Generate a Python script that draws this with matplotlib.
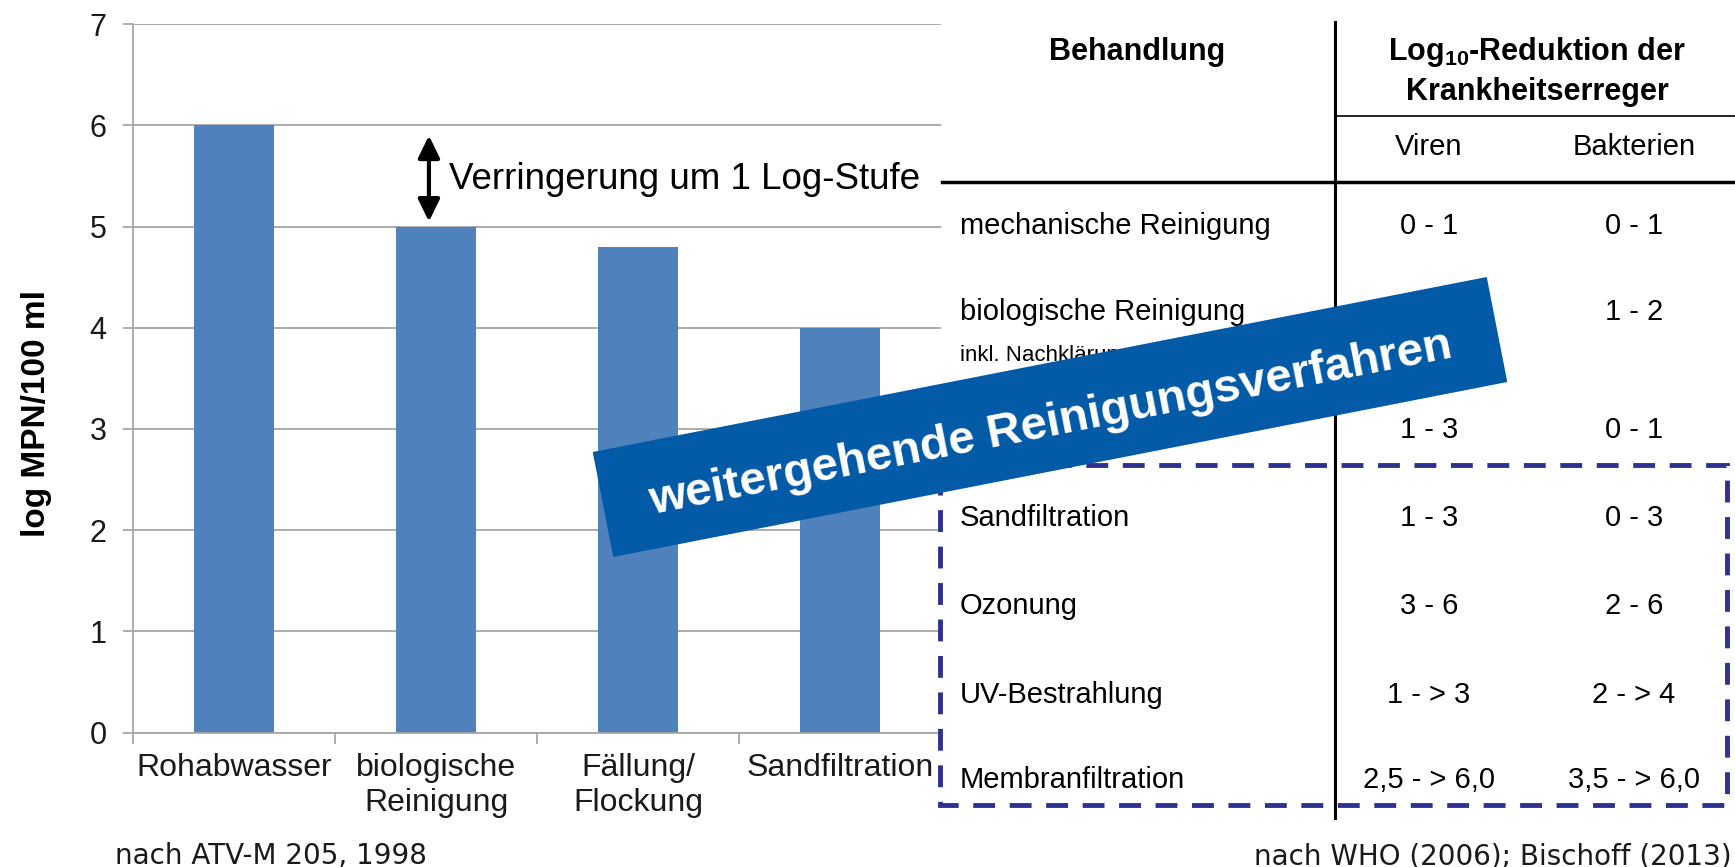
import matplotlib
matplotlib.use('Agg')
import matplotlib.pyplot as plt
import numpy as np
from matplotlib.patches import Polygon, Rectangle

plt.rcParams['font.family'] = ['Liberation Sans', 'DejaVu Sans']
plt.rcParams['mathtext.fontset'] = 'custom'
plt.rcParams['mathtext.rm'] = 'Liberation Sans'
plt.rcParams['mathtext.bf'] = 'Liberation Sans:bold'
plt.rcParams['mathtext.default'] = 'bf'

# Daten Balkendiagramm (nach ATV-M 205)
categories = ['Rohabwasser', 'biologische\nReinigung', 'Fällung/\nFlockung', 'Sandfiltration']
log_mpn = [6.0, 5.0, 4.8, 4.0]
y_ticks = [0, 1, 2, 3, 4, 5, 6, 7]

# Tabelle Log10-Reduktion (nach WHO / Bischoff)
behandlung = ['mechanische Reinigung', 'biologische Reinigung', 'Fällung/Flockung',
              'Sandfiltration', 'Ozonung', 'UV-Bestrahlung', 'Membranfiltration']
viren = ['0 - 1', '0 - 2', '1 - 3', '1 - 3', '3 - 6', '1 - > 3', '2,5 - > 6,0']
bakterien = ['0 - 1', '1 - 2', '0 - 1', '0 - 3', '2 - 6', '2 - > 4', '3,5 - > 6,0']

W, H = 1735, 867
fig = plt.figure(figsize=(W / 100, H / 100), dpi=100)

# --- Balkendiagramm links
ax = fig.add_axes([133 / W, 1 - 732.5 / H, 808 / W, 708.2 / H])
x = np.arange(len(categories))
ax.bar(x, log_mpn, width=0.4, color='#4F81BD', zorder=2)
ax.set_xlim(-0.5, 3.5)
ax.set_ylim(0, 7)
ax.set_yticks(y_ticks)
ax.yaxis.grid(True, color='#A6A6A6', lw=1.3)
ax.set_axisbelow(True)
for s in ['top', 'right']:
    ax.spines[s].set_visible(False)
for s in ['left', 'bottom']:
    ax.spines[s].set_color('#A6A6A6')
    ax.spines[s].set_linewidth(1.3)
ax.set_xticks(x)
ax.set_xticklabels(categories, fontsize=23, linespacing=1.2, color='#1a1a1a')
ax.set_xticks(np.arange(-0.5, 4, 1), minor=True)
ax.tick_params(axis='x', which='major', length=0, pad=15)
ax.tick_params(axis='x', which='minor', length=8, color='#A6A6A6', width=1.3)
ax.tick_params(axis='y', length=7, color='#A6A6A6', width=1.3, labelsize=22, pad=12,
               labelcolor='#1a1a1a')
ax.set_ylabel('log MPN/100 ml', fontsize=24, fontweight='bold')
ax.yaxis.set_label_coords(-0.100, 0.45)

ax.annotate('', xy=(0.965, 5.05), xytext=(0.965, 5.90),
            arrowprops=dict(arrowstyle='<|-|>,head_length=0.45,head_width=0.22', color='black',
                            lw=3, mutation_scale=30, shrinkA=0, shrinkB=0))
ax.text(1.065, 5.47, 'Verringerung um 1 Log-Stufe', fontsize=26.5, va='center', ha='left')

# --- Tabelle rechts (Pixel-Koordinaten)
ov = fig.add_axes([0, 0, 1, 1])
ov.set_xlim(0, W)
ov.set_ylim(H, 0)
ov.axis('off')

ov.plot([942, W], [182, 182], color='black', lw=2.5)
ov.plot([1335, 1335], [22, 818], color='black', lw=2.2)
ov.plot([1335, W], [116, 116], color='black', lw=1.2)

ov.text(1137, 52, 'Behandlung', ha='center', va='center', fontsize=22, fontweight='bold')
ov.text(1537, 52, 'Log$_{10}$-Reduktion der', ha='center', va='center', fontsize=22,
        fontweight='bold')
ov.text(1537, 92, 'Krankheitserreger', ha='center', va='center', fontsize=22, fontweight='bold')
ov.text(1429, 147, 'Viren', ha='center', va='center', fontsize=21)
ov.text(1634, 147, 'Bakterien', ha='center', va='center', fontsize=21)

row_y = [226, 312, 430, 518, 606, 695, 780]
for yy, b, v, k in zip(row_y, behandlung, viren, bakterien):
    ov.text(960, yy, b, ha='left', va='center', fontsize=21)
    ov.text(1429, yy, v, ha='center', va='center', fontsize=21)
    ov.text(1634, yy, k, ha='center', va='center', fontsize=21)
ov.text(960, 356, 'inkl. Nachklärung', ha='left', va='center', fontsize=16)

ov.add_patch(Rectangle((940, 465), 1727 - 940, 805 - 465, fill=False, edgecolor='#2E3192',
                       lw=3.5, linestyle=(0, (4.5, 3))))

# --- Banner
c = np.array([1050, 417])
u = np.array([894, -175]) / np.hypot(894, 175)
v = np.array([-u[1], u[0]])
bw, bh = 911, 107
corners = [c - u * bw / 2 - v * bh / 2, c + u * bw / 2 - v * bh / 2,
           c + u * bw / 2 + v * bh / 2, c - u * bw / 2 + v * bh / 2]
ov.add_patch(Polygon(corners, closed=True, facecolor='#035AA6', edgecolor='none', zorder=5))
ov.text(1051, 424, 'weitergehende Reinigungsverfahren', color='white', fontsize=34,
        fontweight='bold', rotation=11.08, rotation_mode='anchor', ha='center', va='center',
        zorder=6)

# --- Quellen
ov.text(115, 864, 'nach ATV-M 205, 1998', family='DejaVu Sans', fontsize=20, va='baseline',
        color='#1a1a1a')
ov.text(1732, 864, 'nach WHO (2006); Bischoff (2013)', family='DejaVu Sans', fontsize=20,
        va='baseline', ha='right', color='#1a1a1a')

fig.savefig('out.png', dpi=100)
